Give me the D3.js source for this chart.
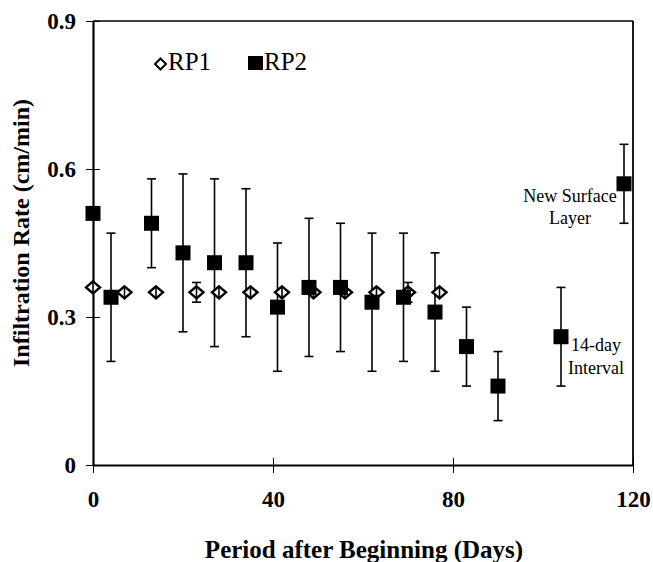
<!DOCTYPE html>
<html>
<head>
<meta charset="utf-8">
<script src="https://cdn.jsdelivr.net/npm/d3@7"></script>
<style>
body { margin: 0; background: #fff; }
text { font-family: "Liberation Serif", "Times New Roman", serif; }
</style>
</head>
<body>
<svg id="chart" width="653" height="562"></svg>
<script>
// RP1 (open diamonds)
var rp1Days = [0, 7, 14, 23, 28, 35, 42, 49, 56, 63, 70, 77];
var rp1Rate = [0.36, 0.35, 0.35, 0.35, 0.35, 0.35, 0.35, 0.35, 0.35, 0.35, 0.35, 0.35];
var rp1Err  = [0.01, 0.01, 0.01, 0.02, 0.01, 0.01, 0.01, 0.01, 0.01, 0.01, 0.02, 0.01];

// RP2 (filled squares), error bars as upper / lower ends
var rp2Days = [0, 4, 13, 20, 27, 34, 41, 48, 55, 62, 69, 76, 83, 90, 104, 118];
var rp2Rate = [0.51, 0.34, 0.49, 0.43, 0.41, 0.41, 0.32, 0.36, 0.36, 0.33, 0.34, 0.31, 0.24, 0.16, 0.26, 0.57];
var rp2Hi   = [0.51, 0.47, 0.58, 0.59, 0.58, 0.56, 0.45, 0.50, 0.49, 0.47, 0.47, 0.43, 0.32, 0.23, 0.36, 0.65];
var rp2Lo   = [0.51, 0.21, 0.40, 0.27, 0.24, 0.26, 0.19, 0.22, 0.23, 0.19, 0.21, 0.19, 0.16, 0.09, 0.16, 0.49];

var xTicks = [0, 40, 80, 120];
var yTicks = [0, 0.3, 0.6, 0.9];
var yTickLabels = ["0", "0.3", "0.6", "0.9"];

var svg = d3.select("#chart");
var x = d3.scaleLinear().domain([0, 120]).range([93, 633]);
var y = d3.scaleLinear().domain([0, 0.9]).range([465, 21]);

// frame
svg.append("line").attr("x1", x(0)).attr("x2", x(120)).attr("y1", y(0.9)).attr("y2", y(0.9))
  .attr("stroke", "#000").attr("stroke-width", 1.3);
svg.append("line").attr("x1", x(120)).attr("x2", x(120)).attr("y1", y(0.9)).attr("y2", y(0))
  .attr("stroke", "#000").attr("stroke-width", 1.8);

// axes
var xAxis = d3.axisBottom(x).tickValues(xTicks).tickSize(8).tickSizeOuter(0).tickFormat(d3.format("d"));
var gx = svg.append("g").attr("transform", "translate(0," + y(0) + ")").call(xAxis);
gx.select(".domain").attr("stroke-width", 2.2);
gx.selectAll(".tick line").attr("y1", -7).attr("stroke-width", 1);
gx.selectAll(".tick text").attr("y", 26).attr("dy", "0.7em")
  .style("font-family", "Liberation Serif").style("font-size", "23px").style("font-weight", "bold");

var yAxis = d3.axisLeft(y).tickValues(yTicks).tickSize(7).tickSizeOuter(0)
  .tickFormat(function (d, i) { return yTickLabels[i]; });
var gy = svg.append("g").attr("transform", "translate(" + x(0) + ",0)").call(yAxis);
gy.select(".domain").attr("stroke-width", 2.2);
gy.selectAll(".tick line").attr("x2", 7).attr("x1", -7).attr("stroke-width", 1);
gy.selectAll(".tick text").attr("x", -17).attr("dy", "0.34em")
  .style("font-family", "Liberation Serif").style("font-size", "23px").style("font-weight", "bold");

// axis titles
svg.append("text").attr("x", 364).attr("y", 558).attr("text-anchor", "middle")
  .style("font-size", "25px").style("font-weight", "bold").text("Period after Beginning (Days)");
svg.append("text").attr("transform", "translate(29,233) rotate(-90)").attr("text-anchor", "middle")
  .style("font-size", "24px").style("font-weight", "bold").text("Infiltration Rate (cm/min)");

function diamondPath(w, h) {
  return "M0," + (-h / 2) + "L" + (w / 2) + ",0L0," + (h / 2) + "L" + (-w / 2) + ",0Z";
}

// RP2 error bars
var rp2 = rp2Days.map(function (d, i) { return { d: d, v: rp2Rate[i], hi: rp2Hi[i], lo: rp2Lo[i] }; });
var eb2 = svg.append("g").attr("stroke", "#000").attr("stroke-width", 1.6);
rp2.forEach(function (p) {
  if (p.hi === p.lo) return;
  eb2.append("line").attr("x1", x(p.d)).attr("x2", x(p.d)).attr("y1", y(p.hi)).attr("y2", y(p.lo));
  eb2.append("line").attr("x1", x(p.d) - 4.5).attr("x2", x(p.d) + 4.5).attr("y1", y(p.hi)).attr("y2", y(p.hi));
  eb2.append("line").attr("x1", x(p.d) - 4.5).attr("x2", x(p.d) + 4.5).attr("y1", y(p.lo)).attr("y2", y(p.lo));
});

// RP1 markers with error bars
var rp1 = rp1Days.map(function (d, i) { return { d: d, v: rp1Rate[i], e: rp1Err[i] }; });
var g1 = svg.append("g");
rp1.forEach(function (p) {
  g1.append("path").attr("d", diamondPath(14, 12))
    .attr("transform", "translate(" + x(p.d) + "," + y(p.v) + ")")
    .attr("fill", "#fff").attr("stroke", "#000").attr("stroke-width", 2.4);
  var top = y(p.v + p.e), bot = y(p.v - p.e);
  g1.append("line").attr("x1", x(p.d)).attr("x2", x(p.d)).attr("y1", Math.min(top, y(p.v) - 5)).attr("y2", Math.max(bot, y(p.v) + 5))
    .attr("stroke", "#000").attr("stroke-width", 1.6);
  if (y(p.v) - top > 6) {
    [top, bot].forEach(function (yy) {
      g1.append("line").attr("x1", x(p.d) - 4.5).attr("x2", x(p.d) + 4.5).attr("y1", yy).attr("y2", yy)
        .attr("stroke", "#000").attr("stroke-width", 1.6);
    });
  }
});

// RP2 squares
svg.append("g").selectAll("rect").data(rp2).enter().append("rect")
  .attr("x", function (p) { return x(p.d) - 7.5; })
  .attr("y", function (p) { return y(p.v) - 7.5; })
  .attr("width", 15).attr("height", 15).attr("fill", "#000");

// legend
svg.append("path").attr("d", diamondPath(11, 11)).attr("transform", "translate(160.5,64)")
  .attr("fill", "#fff").attr("stroke", "#000").attr("stroke-width", 2);
svg.append("text").attr("x", 168).attr("y", 70).style("font-size", "25px").text("RP1");
svg.append("rect").attr("x", 248).attr("y", 56).attr("width", 15).attr("height", 14).attr("fill", "#000");
svg.append("text").attr("x", 264).attr("y", 70).style("font-size", "25px").text("RP2");

// annotations
svg.append("text").attr("x", 570).attr("y", 202).attr("text-anchor", "middle").style("font-size", "18px").text("New Surface");
svg.append("text").attr("x", 570).attr("y", 224).attr("text-anchor", "middle").style("font-size", "18px").text("Layer");
svg.append("text").attr("x", 596).attr("y", 351).attr("text-anchor", "middle").style("font-size", "18px").text("14-day");
svg.append("text").attr("x", 596).attr("y", 374).attr("text-anchor", "middle").style("font-size", "18px").text("Interval");
</script>
</body>
</html>
